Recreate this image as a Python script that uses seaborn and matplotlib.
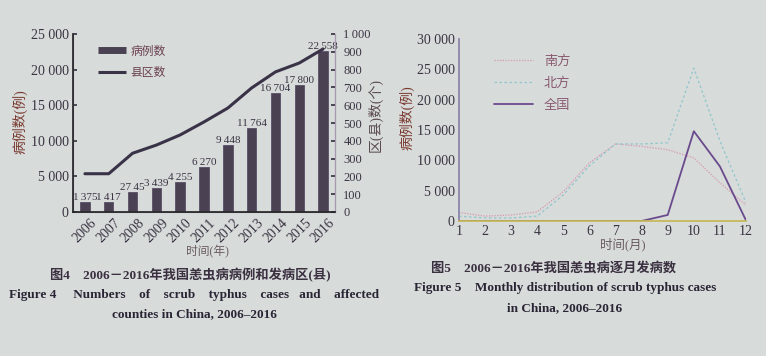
import numpy as np
import pandas as pd
import matplotlib
matplotlib.use("Agg")
import matplotlib.pyplot as plt
from matplotlib.lines import Line2D
from matplotlib.ticker import FuncFormatter
import seaborn as sns

# ---------------- data ----------------
years = ["2006", "2007", "2008", "2009", "2010", "2011", "2012", "2013", "2014", "2015", "2016"]
cases = [1375, 1417, 2745, 3439, 4255, 6270, 9448, 11764, 16704, 17800, 22558]
case_labels = ["1\u2009375", "1\u2009417", "27\u200945", "3\u2009439", "4\u2009255", "6\u2009270",
               "9\u2009448", "11\u2009764", "16\u2009704", "17\u2009800", "22\u2009558"]
counties = [215, 215, 330, 376, 433, 506, 584, 697, 787, 837, 916]

months = [1, 2, 3, 4, 5, 6, 7, 8, 9, 10, 11, 12]
south = [1400, 800, 1000, 1500, 4850, 9600, 12700, 12300, 11750, 10400, 6300, 2600]
north = [800, 500, 500, 800, 4300, 9100, 12700, 12700, 12900, 25200, 13200, 3000]
nation = [0, 0, 0, 0, 0, 0, 0, 0, 1000, 14800, 9000, 100]

# ---------------- style ----------------
sns.set_theme(style="white")
BG = "#d7dbda"
TXT = "#3a3342"
plt.rcParams["font.family"] = ["Liberation Serif", "Noto Sans CJK SC", "DejaVu Sans"]
plt.rcParams["axes.facecolor"] = BG
plt.rcParams["figure.facecolor"] = BG
plt.rcParams["text.color"] = TXT
plt.rcParams["axes.labelcolor"] = TXT
plt.rcParams["xtick.color"] = TXT
plt.rcParams["ytick.color"] = TXT

fig = plt.figure(figsize=(7.66, 3.56), dpi=100)

def thousands(v, pos):
    v = int(round(v))
    return f"{v:,}".replace(",", " ")

def thousands_thin(v, pos):
    v = int(round(v))
    return f"{v:,}".replace(",", "\u2009")

# ---------------- Figure 4 ----------------
ax1 = fig.add_axes([73/766, 1-212/356, (335-73)/766, (212-34)/356])
df1 = pd.DataFrame({"year": years, "cases": cases})
sns.barplot(data=df1, x="year", y="cases", ax=ax1, color="#4a4252", width=0.4,
            saturation=1, edgecolor="#5a4f68", linewidth=0.6)
ax1.set_ylim(0, 25000)
ax1.set_yticks(np.arange(0, 25001, 5000))
ax1.yaxis.set_major_formatter(FuncFormatter(thousands))
ax1.set_xlim(-0.5, 10.5)
ax1.bar_label(ax1.containers[0], labels=case_labels, padding=0, fontsize=8, color=TXT)
ax1.set_xlabel("时间(年)", fontsize=8.5, color="#6a5a60")
ax1.xaxis.set_label_coords((207-73)/262, (212-245)/178)
ax1.set_ylabel("病例数(例)", fontsize=10, color="#7a3a30")
ax1.yaxis.set_label_coords((28-73)/262, (212-122)/178)
ax1.tick_params(axis="y", direction="in", length=3, labelsize=10, pad=3)
ax1.tick_params(axis="x", direction="in", length=0, labelsize=10, pad=3)
for lab in ax1.get_xticklabels():
    lab.set_rotation(45)
    lab.set_ha("center")
ax1.spines["top"].set_visible(False)
for s in ["left", "bottom", "right"]:
    ax1.spines[s].set_color("#8a8098")
    ax1.spines[s].set_linewidth(0.8)

ax1b = ax1.twinx()
sns.lineplot(x=np.arange(len(years)), y=counties, ax=ax1b, color="#3a3348", linewidth=2.2)
ax1b.set_ylim(0, 1000)
ax1b.set_yticks(np.arange(0, 1001, 100))
ax1b.yaxis.set_major_formatter(FuncFormatter(thousands_thin))
ax1b.set_ylabel("区(县)数(个)", fontsize=10, color="#5a4a50")
ax1b.yaxis.set_label_coords((367-73)/262, (212-115)/178)
ax1b.tick_params(axis="y", direction="in", length=3, labelsize=9, pad=6)
ax1b.spines["top"].set_visible(False)
ax1b.spines["right"].set_color("#a898b0")
ax1b.spines["right"].set_linewidth(0.8)
ax1b.set_xlim(-0.5, 10.5)

h1 = [Line2D([0], [0], color="#4a4252", lw=5, solid_capstyle="butt"),
      Line2D([0], [0], color="#3a3348", lw=2.2, solid_capstyle="butt")]
ax1.legend(h1, ["病例数", "县区数"], loc="upper left", bbox_to_anchor=(0.055, 1.0),
           frameon=False, handlelength=2.4, handletextpad=0.35, labelspacing=0.75,
           prop={"family": ["Noto Sans CJK SC"], "size": 8.5}, labelcolor="#6a4050")

# ---------------- Figure 5 ----------------
ax2 = fig.add_axes([459/766, 1-221/356, (746-459)/766, (221-39)/356])
sns.lineplot(x=months, y=south, ax=ax2, color="#d898b0", linewidth=0.9, linestyle=(0, (1, 1.2)))
sns.lineplot(x=months, y=north, ax=ax2, color="#8fc6cc", linewidth=0.9, linestyle=(0, (2, 2)))
sns.lineplot(x=months, y=nation, ax=ax2, color="#6a4a8c", linewidth=1.3)
ax2.set_xlim(1, 12)
ax2.set_ylim(0, 30000)
ax2.set_xticks(months)
ax2.set_yticks(np.arange(0, 30001, 5000))
ax2.yaxis.set_major_formatter(FuncFormatter(thousands))
ax2.tick_params(axis="both", direction="in", length=3, labelsize=10, pad=3)
ax2.tick_params(axis="x", color="#c05a70")
ax2.set_xlabel("时间(月)", fontsize=9, color="#6a5a60")
ax2.xaxis.set_label_coords((623-459)/287, (221-238)/182)
ax2.set_ylabel("病例数(例)", fontsize=10, color="#7a3a30")
ax2.yaxis.set_label_coords((415-459)/287, (221-118)/182)
for s in ["top", "right"]:
    ax2.spines[s].set_visible(False)
ax2.spines["left"].set_color("#8a80a8")
ax2.spines["bottom"].set_color("#c8b858")
h2 = [Line2D([0], [0], color="#d898b0", lw=0.9, ls=(0, (1, 1.2))),
      Line2D([0], [0], color="#8fc6cc", lw=0.9, ls=(0, (2, 2))),
      Line2D([0], [0], color="#6a4a8c", lw=1.3)]
ax2.legend(h2, ["南方", "北方", "全国"], loc="upper left", bbox_to_anchor=(0.08, 0.98),
           frameon=False, handlelength=3.0, labelspacing=0.7,
           prop={"family": ["Noto Sans CJK SC"], "size": 9.5}, labelcolor="#8a5a70")

# ---------------- captions ----------------
cap_cn = ["Liberation Serif", "Noto Sans CJK SC"]
fig.text(190/766, 1-275/356, "图4　2006－2016年我国恙虫病病例和发病区(县)", ha="center", va="center",
         fontsize=9.5, fontweight="bold", family=cap_cn, color="#3a3040")
fig.text(194/766, 1-295/356, "Figure 4     Numbers    of    scrub    typhus    cases   and    affected",
         ha="center", va="center", fontsize=9.5, fontweight="bold", family=cap_cn, color="#2a2535")
fig.text(194/766, 1-314/356, "counties in China, 2006\u20132016", ha="center", va="center",
         fontsize=9.5, fontweight="bold", family=cap_cn, color="#2a2535")
fig.text(554/766, 1-268/356, "图5　2006－2016年我国恙虫病逐月发病数", ha="center", va="center",
         fontsize=9.5, fontweight="bold", family=cap_cn, color="#3a3040")
fig.text(565/766, 1-288/356, "Figure 5    Monthly distribution of scrub typhus cases",
         ha="center", va="center", fontsize=9.5, fontweight="bold", family=cap_cn, color="#2a2535")
fig.text(565/766, 1-308/356, "in China, 2006\u20132016", ha="center", va="center",
         fontsize=9.5, fontweight="bold", family=cap_cn, color="#2a2535")

fig.savefig("out.png", dpi=100, facecolor=BG)
